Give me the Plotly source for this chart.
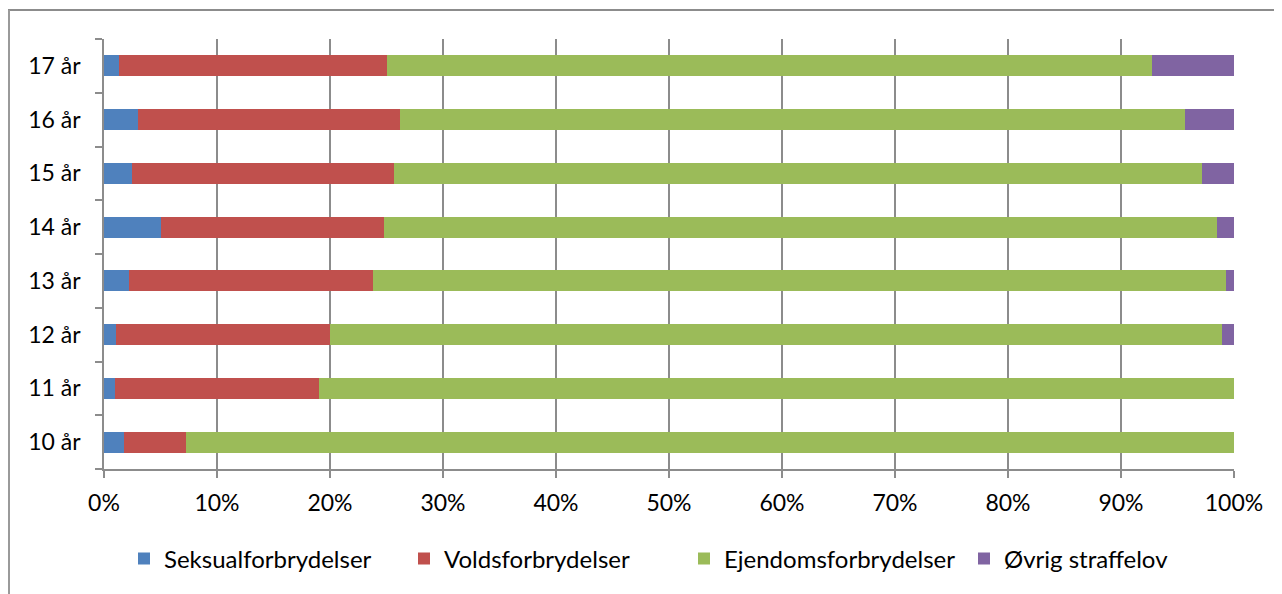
import plotly.graph_objects as go

categories = ["10 år", "11 år", "12 år", "13 år", "14 år", "15 år", "16 år", "17 år"]
seksual = [1.8, 1.0, 1.1, 2.2, 5.0, 2.5, 3.0, 1.3]
volds = [5.5, 18.0, 18.9, 21.6, 19.8, 23.2, 23.2, 23.7]
ejendom = [92.7, 81.0, 78.9, 75.5, 73.7, 71.5, 69.5, 67.7]
oevrig = [0.0, 0.0, 1.1, 0.7, 1.5, 2.8, 4.3, 7.3]
series_names = ["Seksualforbrydelser", "Voldsforbrydelser", "Ejendomsforbrydelser", "Øvrig straffelov"]
colors = ["#4F81BD", "#C0504D", "#9BBB59", "#8064A2"]
x_ticks = [0, 10, 20, 30, 40, 50, 60, 70, 80, 90, 100]
x_tick_labels = [f"{v}%" for v in x_ticks]

FONT = "Lato, 'Open Sans', sans-serif"
GRID = "#8c8c8c"

fig = go.Figure()
for name, vals, col in zip(series_names, [seksual, volds, ejendom, oevrig], colors):
    fig.add_trace(go.Bar(
        y=categories, x=vals, name=name, orientation="h",
        marker=dict(color=col, line=dict(width=0)),
    ))

# page body has an 8px margin: work in screen pixels, convert to figure pixels
OFF = 8
W, H = 1282 - OFF, 594 - OFF
L, R, T, B = 104 - OFF, 48, 39 - OFF, 125
pw, ph = W - L - R, H - T - B

def px(xs):
    return (xs - OFF - L) / pw

def py(ys):
    return (H - B - (ys - OFF)) / ph

fig.update_layout(
    width=W, height=H,
    barmode="stack", bargap=0.61,
    margin=dict(l=L, r=R, t=T, b=B, pad=0),
    paper_bgcolor="white", plot_bgcolor="white",
    font=dict(family=FONT, size=23, color="#000000"),
    showlegend=True,
    legend=dict(orientation="h", x=px(684), xanchor="center", y=py(559), yanchor="middle",
                font=dict(size=24), itemwidth=30, traceorder="normal",
                entrywidth=235, entrywidthmode="pixels"),
    xaxis=dict(range=[0, 100], tickvals=x_ticks, ticktext=x_tick_labels,
               showgrid=True, gridcolor=GRID, gridwidth=1.5,
               showline=True, linecolor=GRID, linewidth=1.5,
               ticks="outside", ticklen=7, tickcolor=GRID, tickwidth=1.5,
               ticklabelstandoff=6,
               zeroline=False, fixedrange=True),
    yaxis=dict(categoryorder="array", categoryarray=categories,
               range=[-0.5, 7.5], showgrid=False,
               showline=True, linecolor=GRID, linewidth=1.5,
               ticks="outside", ticklen=7, tickcolor=GRID, tickwidth=1.5,
               tickson="boundaries", ticklabelstandoff=17,
               zeroline=False, fixedrange=True),
    shapes=[
        dict(type="line", xref="paper", yref="paper", x0=px(8), x1=px(1300), y0=py(10), y1=py(10),
             line=dict(color="#8c8c8c", width=2)),
        dict(type="line", xref="paper", yref="paper", x0=px(9), x1=px(9), y0=py(10), y1=py(610),
             line=dict(color="#9a9a9a", width=2)),
    ],
)

fig.write_html("out.html")
